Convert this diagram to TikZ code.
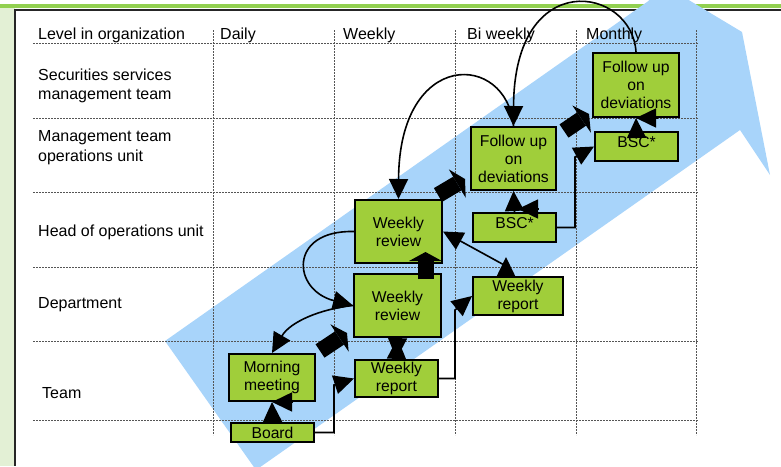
\documentclass[tikz,border=0pt]{standalone}
\usepackage{fontspec}
\setmainfont{Liberation Sans}
\usetikzlibrary{arrows.meta,calc}
\definecolor{boxgreen}{RGB}{160,206,58}
\definecolor{bandblue}{RGB}{168,212,250}
\definecolor{bargreen}{RGB}{146,208,80}
\definecolor{stripgreen}{RGB}{227,240,213}
\definecolor{gridgray}{RGB}{85,85,85}
\begin{document}
\begin{tikzpicture}[x=1pt,y=-1pt,
  box/.style={draw=black, line width=2pt, fill=boxgreen, inner sep=0pt, align=center,
    font=\fontsize{15.7}{18}\selectfont},
  lab/.style={anchor=base west, inner sep=0pt, font=\fontsize{16}{19}\selectfont},
  gridline/.style={gridgray, line width=0.8pt, dash pattern=on 2pt off 1pt},
  conn/.style={line width=1.6pt, -{Triangle[width=19pt,length=20pt]}},
  twoway/.style={line width=1.6pt, {Triangle[width=19pt,length=21pt]}-{Triangle[width=19pt,length=21pt]}},
  blockarrow/.style={line width=16pt, -{Triangle[width=33pt,length=9pt,line width=0pt]}},
]
\useasboundingbox (0,0) rectangle (781,466);
\begin{scope}
\clip (0,0) rectangle (781,466);
% frame
\fill[bargreen] (0,3.5) rectangle (781,7.5);
\fill[stripgreen] (0,7.5) rectangle (15,466);
\draw[line width=2pt, black!85] (781,10) -- (15,10) -- (15,466);
% big blue arrow
\fill[bandblue] (165,341) -- (649,0.6) -- (617,-43) -- (742,32) -- (770,175) -- (740,130) -- (256,470) -- cycle;
\end{scope}
% grid
\foreach \y in {43,118,192,267,341,420} \draw[gridline] (33,\y) -- (698,\y);
\foreach \x in {213,334,455,576,696} \draw[gridline] (\x,30) -- (\x,435);
% headers and row labels
\node[lab] (h0) at (38,39) {Level in organization};
\node[lab] (h1) at (220,39) {Daily};
\node[lab] (h2) at (343,39) {Weekly};
\node[lab] (h3) at (467,39) {Bi weekly};
\node[lab] (h4) at (586,39) {Monthly};
\node[lab] (r1a) at (38,80) {Securities services};
\node[lab] (r1b) at (38,99.3) {management team};
\node[lab] (r2a) at (38,141.7) {Management team};
\node[lab] (r2b) at (38,161.7) {operations unit};
\node[lab] (r3) at (38,236) {Head of operations unit};
\node[lab] (r4) at (38,308.3) {Department};
\node[lab] (r5) at (42,398.3) {Team};
% boxes
\node[box, minimum width=83pt, minimum height=19pt] (board) at (272.5,432.5) {Board};
\node[box, minimum width=86pt, minimum height=47pt] (mm) at (272,377.5) {Morning\\meeting};
\node[box, minimum width=83pt, minimum height=37pt] (wrt) at (396.5,378.5) {Weekly\\report};
\node[box, minimum width=87pt, minimum height=63pt] (drv) at (397.5,305.5) {Weekly\\review};
\node[box, minimum width=90pt, minimum height=38pt] (wrd) at (518,296) {Weekly\\report};
\node[box, minimum width=87pt, minimum height=63pt] (hrv) at (398.5,231.5) {Weekly\\review};
\node[box, minimum width=85pt, minimum height=63pt] (fub) at (513.5,158.5) {Follow up\\on\\deviations};
\node[box, minimum width=83pt, minimum height=29pt, text height=12pt, text depth=10pt] (bscb) at (514.5,227.5) {BSC*};
\node[box, minimum width=86pt, minimum height=64pt] (fum) at (636,85) {Follow up\\on\\deviations};
\node[box, minimum width=83pt, minimum height=29pt, text height=12pt, text depth=10pt] (bscm) at (636.5,146.5) {BSC*};
% helper coordinates
\coordinate (mmstub) at (293,402);
\coordinate (bscbstub) at (538,209);
\coordinate (bscbtip) at (518,209);
\coordinate (bscmstub) at (658,118);
\coordinate (bscmbase) at ($(bscm.north)+(0,6)$);
\coordinate (wrdtop) at (506,276);
\coordinate (wrdtip) at (506,257);
\coordinate (wrdmid) at (506,266);
\coordinate (e1) at (334,385);
\coordinate (e2) at (455,310);
\coordinate (e3) at (575,157);
\coordinate (ta1) at (320,351); \coordinate (tb1) at (347,333);
\coordinate (ta2) at (438,195); \coordinate (tb2) at (465,179);
\coordinate (ta3) at (564,131); \coordinate (tb3) at (589,114);
\coordinate (ta4) at (425.5,279); \coordinate (tb4) at (425.5,252);
% thin connectors
\draw[conn] (board.north) -- (mm.south);
\draw[conn] (mmstub) -- (mm.south);
\draw[conn] (board.east) -| (e1) -- (wrt.west);
\draw[conn] (wrt.east) -| (e2) -- (wrd.west);
\draw[twoway] (drv.south) -- (wrt.north);
\draw[conn] (wrdtop) -- (wrdtip);
\draw[conn] (wrdmid) -- (hrv.east);
\draw[conn] (bscb.north) -- (fub.south);
\draw[conn] (bscbstub) -- (bscbtip);
\draw[conn] (bscb.east) -| (e3) -- (bscm.west);
\draw[conn] (bscmbase) -- (fum.south);
\draw[conn] (bscmstub) -- (fum.south);
% curved connectors
\draw[conn] (hrv.west) .. controls (288,230) and (292,290) .. (drv.west);
\draw[conn] (drv.west) .. controls (320,309) and (290,322) .. (mm.north);
\draw[conn] (fub.north) .. controls (507,52) and (399,48) .. (hrv.north);
\draw[conn] (fum.north) .. controls (632,-14) and (514,-34) .. (fub.north);
% block arrows
\draw[blockarrow] (ta1) -- (tb1);
\draw[blockarrow] (ta2) -- (tb2);
\draw[blockarrow] (ta3) -- (tb3);
\draw[blockarrow] (ta4) -- (tb4);
\end{tikzpicture}
\end{document}
